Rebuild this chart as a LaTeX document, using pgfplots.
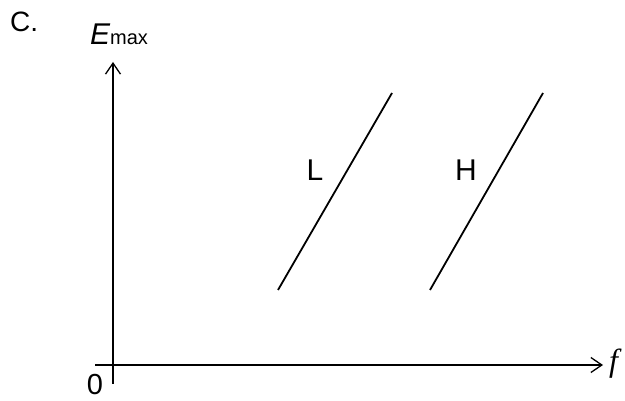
\documentclass[border=0pt]{standalone}
\usepackage{pgfplots}
\pgfplotsset{compat=1.18}
\usetikzlibrary{arrows.meta}
\usepackage{fontspec}
\setmainfont{Liberation Sans}
\newfontfamily\timesfont{Liberation Serif}
\begin{document}
\begin{tikzpicture}
\begin{axis}[
  width=625bp, height=401bp, scale only axis,
  xmin=-113, xmax=512, ymin=-36, ymax=365,
  hide axis, clip=false,
]
\path (axis cs:-113,-36) rectangle (axis cs:512,365);
% axes
\addplot[black, line width=1.3bp, -{Straight Barb[length=11bp,width=15bp,line width=1.3bp]}] coordinates {(-18,0) (490,0)};
\addplot[black, line width=1.3bp, -{Straight Barb[length=11bp,width=15bp,line width=1.3bp]}] coordinates {(0,-19) (0,303)};
% lines
\addplot[black, line width=1.8bp] coordinates {(165,75) (279,272)};
\addplot[black, line width=1.8bp] coordinates {(317,75) (430,272)};
% labels
\node[inner sep=0pt] at (axis cs:202,195) {\fontsize{30bp}{30bp}\selectfont L};
\node[inner sep=0pt] at (axis cs:353,195) {\fontsize{30bp}{30bp}\selectfont H};
\node[inner sep=0pt] at (axis cs:-18,-20) {\fontsize{29bp}{29bp}\selectfont 0};
\node[inner sep=0pt, anchor=west] at (axis cs:496,1) {\timesfont\itshape\fontsize{32bp}{32bp}\selectfont f};
\node[inner sep=0pt, anchor=base west] at (axis cs:-23,320) {\fontsize{30bp}{30bp}\selectfont\itshape E\upshape\fontsize{20bp}{20bp}\selectfont max};
\node[inner sep=0pt, anchor=base west] at (axis cs:-103,333) {\fontsize{28bp}{28bp}\selectfont C.};
\end{axis}
\end{tikzpicture}
\end{document}
